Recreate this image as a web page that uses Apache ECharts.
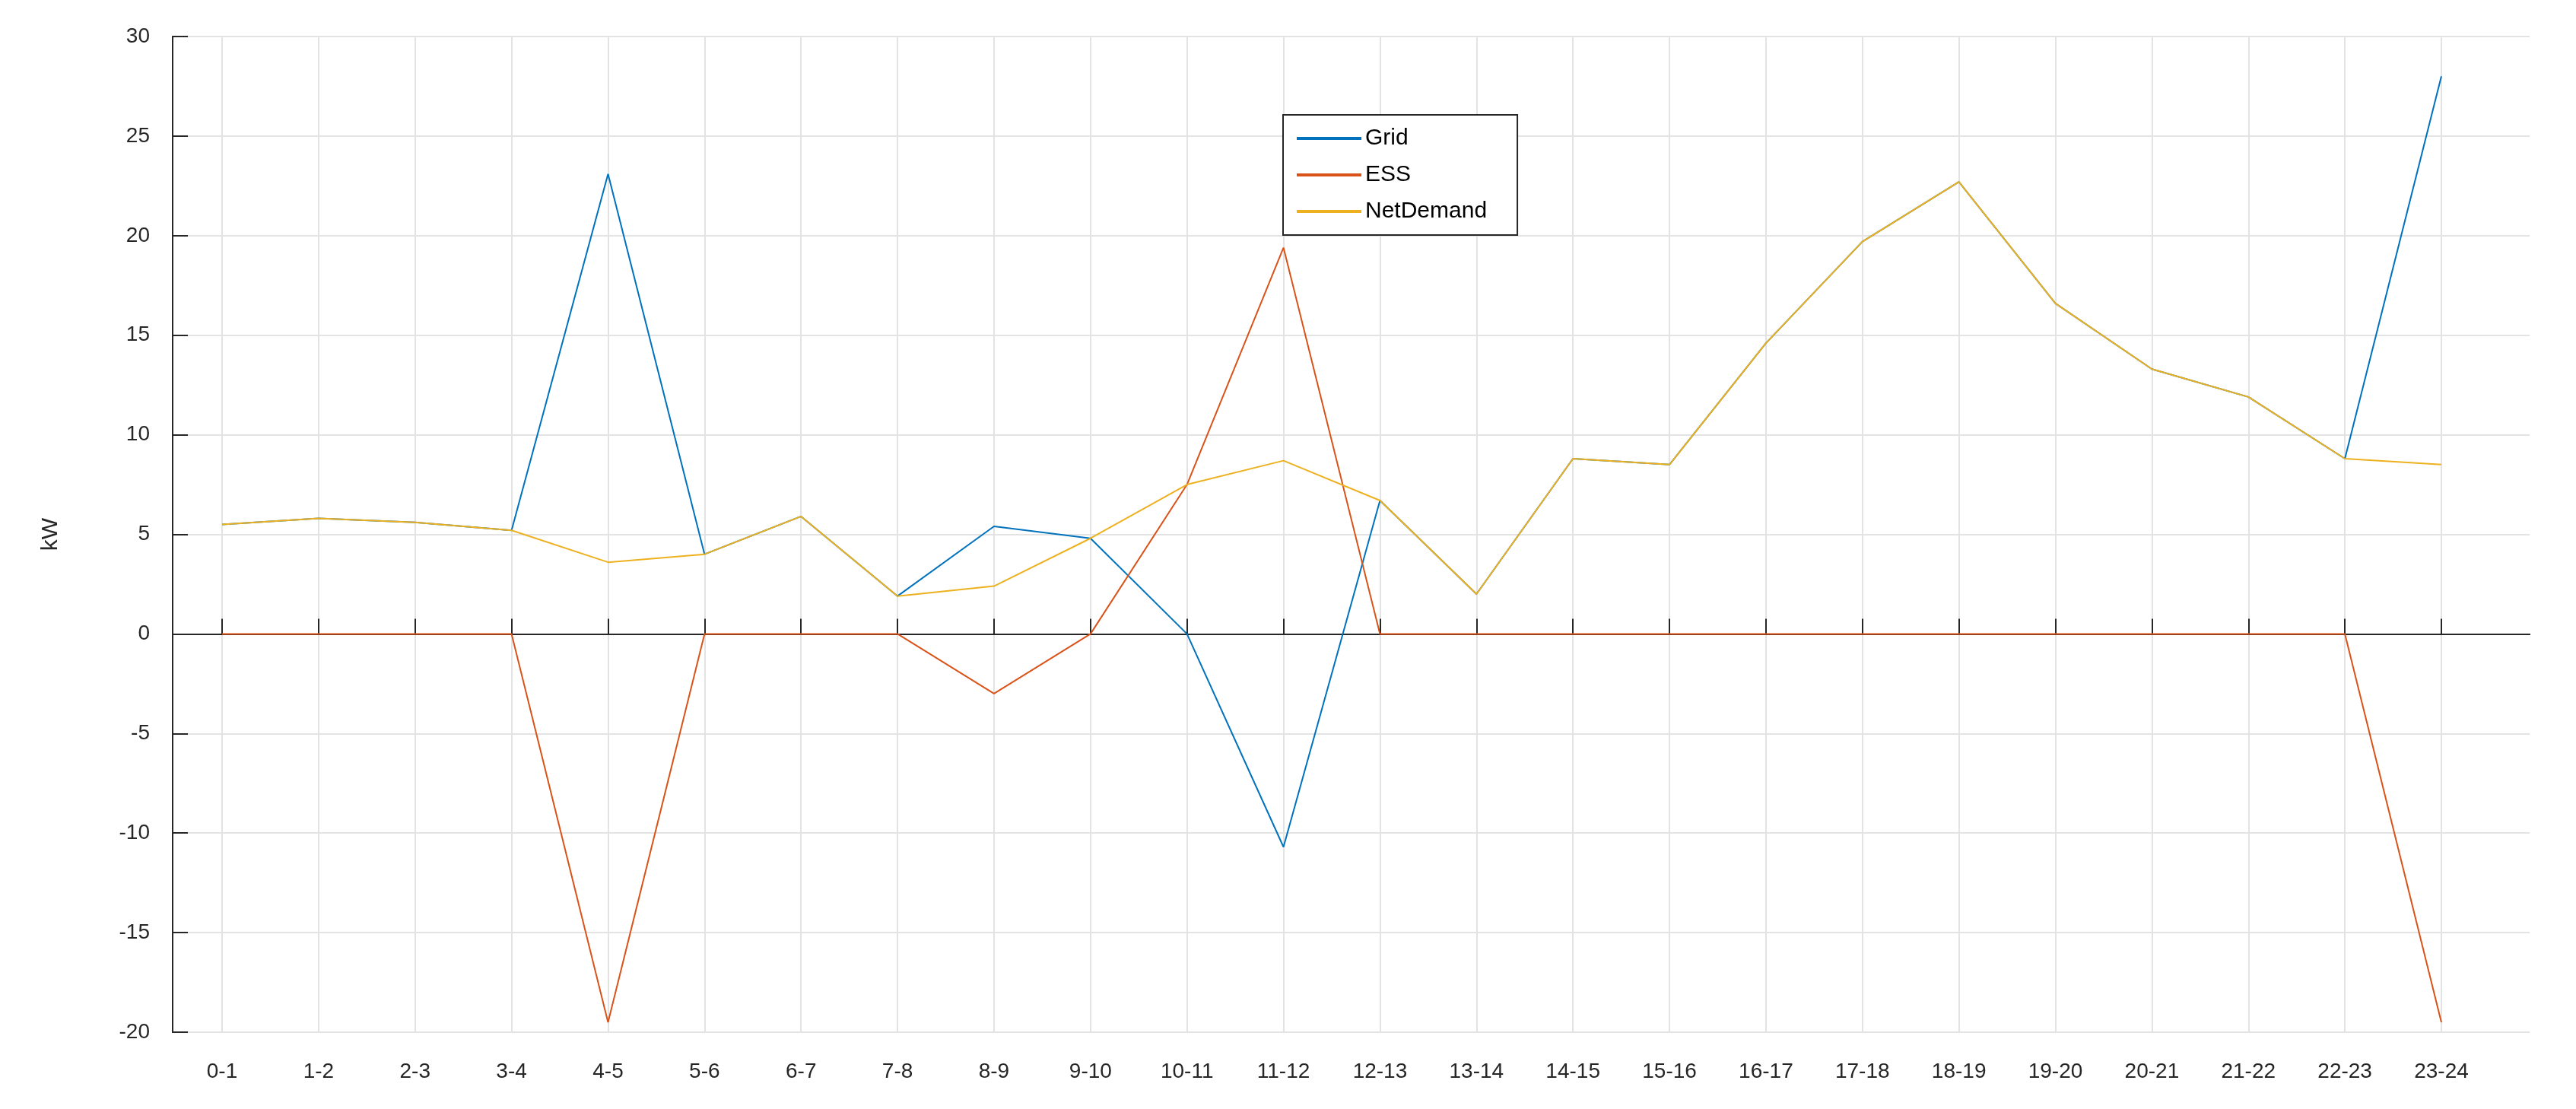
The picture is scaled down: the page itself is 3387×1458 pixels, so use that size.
<!DOCTYPE html>
<html><head><meta charset="utf-8">
<script src="https://cdn.jsdelivr.net/npm/echarts@6/dist/echarts.min.js"></script>
<style>html,body{margin:0;padding:0;background:#fff}#c{width:3387px;height:1458px}</style>
</head><body><div id="c"></div>
<script>
const categories = ['0-1','1-2','2-3','3-4','4-5','5-6','6-7','7-8','8-9','9-10','10-11','11-12','12-13','13-14','14-15','15-16','16-17','17-18','18-19','19-20','20-21','21-22','22-23','23-24'];
const gridVals = [5.5,5.8,5.6,5.2,23.1,4.0,5.9,1.9,5.4,4.8,0,-10.7,6.7,2.0,8.8,8.5,14.6,19.7,22.7,16.6,13.3,11.9,8.8,28.0];
const essVals = [0,0,0,0,-19.5,0,0,0,-3,0,7.5,19.4,0,0,0,0,0,0,0,0,0,0,0,-19.5];
const netDemand = [5.5,5.8,5.6,5.2,3.6,4.0,5.9,1.9,2.4,4.8,7.5,8.7,6.7,2.0,8.8,8.5,14.6,19.7,22.7,16.6,13.3,11.9,8.8,8.5];
const yTicks = {min:-20, max:30, interval:5};

const font = 'Liberation Sans, Arial, sans-serif';
const axisLine = {show:true, lineStyle:{color:'#262626', width:2}};
const chart = echarts.init(document.getElementById('c'));
const line = (name, data, color, z) => ({name, type:'line', data, xAxisIndex:2, yAxisIndex:1, symbol:'none',
  lineStyle:{color, width:2}, itemStyle:{color}, z, animation:false});
chart.setOption({
  animation:false,
  grid:[
    {left:227, right:61, top:48, bottom:101, show:false},
    {left:292, right:177, top:48, bottom:101, show:false}
  ],
  xAxis:[
    {gridIndex:0, type:'value', min:0, max:1, position:'bottom', axisLine, axisTick:{show:false}, axisLabel:{show:false}, splitLine:{show:false}},
    {gridIndex:0, type:'value', min:0, max:1, position:'top', axisLine, axisTick:{show:false}, axisLabel:{show:false}, splitLine:{show:false}},
    {gridIndex:1, type:'category', data:categories, boundaryGap:false, position:'bottom',
     axisLine:{show:false}, axisTick:{show:true, inside:true, length:20, lineStyle:{color:'#262626', width:2}},
     axisLabel:{fontFamily:font, fontSize:28, color:'#262626', margin:38, interval:0},
     splitLine:{show:true, lineStyle:{color:'#e3e3e3', width:2}}}
  ],
  yAxis:[
    {gridIndex:0, type:'value', ...yTicks, position:'left', axisLine, name:'kW', nameLocation:'middle', nameGap:145,
     nameTextStyle:{fontFamily:font, fontSize:30, color:'#262626'},
     axisTick:{show:true, inside:true, length:20, lineStyle:{color:'#262626', width:2}},
     axisLabel:{fontFamily:font, fontSize:28, color:'#262626', margin:30},
     splitLine:{show:true, lineStyle:{color:'#e3e3e3', width:2}}},
    {gridIndex:1, type:'value', ...yTicks, show:false, splitLine:{show:false}},
    {gridIndex:0, type:'value', ...yTicks, position:'right', axisLine, axisTick:{show:false}, axisLabel:{show:false}, splitLine:{show:false}}
  ],
  legend:{orient:'vertical', left:1687, top:151, itemWidth:85, itemHeight:4, itemGap:18,
    padding:[16,40,16,18], borderColor:'#262626', borderWidth:2, backgroundColor:'#fff',
    icon:'rect', textStyle:{fontFamily:font, fontSize:30, color:'#000'},
    data:['Grid','ESS','NetDemand']},
  series:[
    line('Grid', gridVals, '#0072BD', 3),
    line('ESS', essVals, '#D95319', 4),
    line('NetDemand', netDemand, '#EDB120', 5)
  ]
});
</script></body></html>
